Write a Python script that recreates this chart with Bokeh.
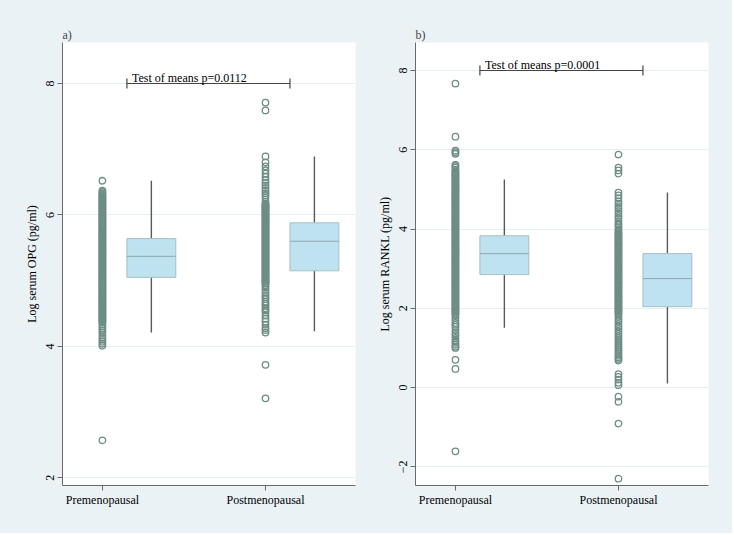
import math
from bokeh.plotting import figure
from bokeh.layouts import row
from bokeh.models import Range1d, FixedTicker
from bokeh.core.properties import value
from bokeh.embed import file_html
from bokeh.resources import INLINE

categories = ["Premenopausal", "Postmenopausal"]
panel_labels = ["a)", "b)"]
y_titles = ["Log serum OPG (pg/ml)", "Log serum RANKL (pg/ml)"]
p_texts = ["Test of means p=0.0112", "Test of means p=0.0001"]
opg_ticks = [2, 4, 6, 8]
rankl_ticks = [-2, 0, 2, 4, 6, 8]

opg_pre = [2.57, 4.01, 4.04, 4.07, 4.10, 4.13, 4.17, 4.21, 4.24, 4.27, 4.30, 4.33, 4.36,
           4.38, 4.39, 4.41, 4.42, 4.44, 4.45, 4.47, 4.48, 4.50, 4.51, 4.53, 4.54, 4.56, 4.57,
           4.59, 4.60, 4.62, 4.63, 4.65, 4.66, 4.68, 4.69, 4.71, 4.72, 4.74, 4.75, 4.77, 4.78,
           4.80, 4.81, 4.83, 4.84, 4.86, 4.87, 4.89, 4.90, 4.92, 4.93, 4.95, 4.96, 4.98, 4.99,
           5.01, 5.02, 5.04, 5.05, 5.07, 5.08, 5.10, 5.11, 5.13, 5.14, 5.16, 5.17, 5.19, 5.20,
           5.22, 5.23, 5.25, 5.26, 5.28, 5.29, 5.31, 5.32, 5.34, 5.35, 5.37, 5.38, 5.40, 5.41,
           5.43, 5.44, 5.46, 5.47, 5.49, 5.50, 5.52, 5.53, 5.55, 5.56, 5.58, 5.59, 5.61, 5.62,
           5.64, 5.65, 5.67, 5.68, 5.70, 5.71, 5.73, 5.74, 5.76, 5.77, 5.79, 5.80, 5.82, 5.83,
           5.85, 5.86, 5.88, 5.89, 5.91, 5.92, 5.94, 5.95, 5.97, 5.98, 6.00, 6.01, 6.03, 6.04,
           6.06, 6.07, 6.09, 6.10, 6.12, 6.13, 6.15, 6.16, 6.18, 6.19, 6.21, 6.22, 6.24, 6.25,
           6.27, 6.28, 6.30, 6.31, 6.33, 6.35, 6.37, 6.52]
opg_post = [3.21, 3.72, 4.21, 4.25, 4.28, 4.33, 4.38, 4.42, 4.47, 4.52, 4.55, 4.58, 4.62, 4.65,
            4.68, 4.72, 4.75, 4.78, 4.82, 4.86, 4.90, 4.93,
            4.96, 4.97, 4.99, 5.00, 5.02, 5.03, 5.05, 5.06, 5.08, 5.09, 5.11, 5.12, 5.14, 5.15,
            5.17, 5.18, 5.20, 5.21, 5.23, 5.24, 5.26, 5.27, 5.29, 5.30, 5.32, 5.33, 5.35, 5.36,
            5.38, 5.39, 5.41, 5.42, 5.44, 5.45, 5.47, 5.48, 5.50, 5.51, 5.53, 5.54, 5.56, 5.57,
            5.59, 5.60, 5.62, 5.63, 5.65, 5.66, 5.68, 5.69, 5.71, 5.72, 5.74, 5.75, 5.77, 5.78,
            5.80, 5.81, 5.83, 5.84, 5.86, 5.87, 5.89, 5.90, 5.92, 5.93, 5.95, 5.96, 5.98, 5.99,
            6.01, 6.02, 6.04, 6.05, 6.07, 6.08, 6.10, 6.11, 6.13, 6.14, 6.16, 6.17,
            6.20, 6.26, 6.30, 6.33, 6.37, 6.41, 6.45, 6.49, 6.53, 6.58, 6.63, 6.68, 6.74,
            6.80, 6.89, 7.59, 7.71]
rankl_pre = [-1.61, 0.47, 0.70, 1.00, 1.03, 1.08, 1.13, 1.18, 1.25, 1.32, 1.37, 1.45, 1.53,
             1.58, 1.63, 1.70, 1.76, 1.82,
             1.86, 1.89, 1.92, 1.95, 1.98, 2.01, 2.04, 2.07, 2.10, 2.13, 2.16, 2.19, 2.22, 2.25,
             2.28, 2.31, 2.34, 2.37, 2.40, 2.43, 2.46, 2.49, 2.52, 2.55, 2.58, 2.61, 2.64, 2.67,
             2.70, 2.73, 2.76, 2.79, 2.82, 2.85, 2.88, 2.91, 2.94, 2.97, 3.00, 3.03, 3.06, 3.09,
             3.12, 3.15, 3.18, 3.21, 3.24, 3.27, 3.30, 3.33, 3.36, 3.39, 3.42, 3.45, 3.48, 3.51,
             3.54, 3.57, 3.60, 3.63, 3.66, 3.69, 3.72, 3.75, 3.78, 3.81, 3.84, 3.87, 3.90, 3.93,
             3.96, 3.99, 4.02, 4.05, 4.08, 4.11, 4.14, 4.17, 4.20, 4.23, 4.26, 4.29, 4.32, 4.35,
             4.38, 4.41, 4.44, 4.47, 4.50, 4.53, 4.56, 4.59, 4.62, 4.65, 4.68, 4.71, 4.74, 4.77,
             4.80, 4.83, 4.86, 4.89, 4.92, 4.95, 4.98, 5.01, 5.04, 5.07, 5.10, 5.13, 5.16, 5.19,
             5.22, 5.25, 5.28, 5.31, 5.34, 5.37, 5.40, 5.43, 5.46,
             5.50, 5.55, 5.59, 5.62, 5.90, 5.94, 5.98, 6.33, 7.67]
rankl_post = [-2.30, -0.91, -0.36, -0.23, 0.06, 0.12, 0.20, 0.27, 0.34, 0.68, 0.72, 0.76, 0.80,
              0.85, 0.90, 0.95, 1.00, 1.05, 1.10, 1.15, 1.20, 1.25, 1.30, 1.36, 1.42, 1.48, 1.54,
              1.60, 1.66, 1.72, 1.78, 1.84,
              1.88, 1.91, 1.94, 1.97, 2.00, 2.03, 2.06, 2.09, 2.12, 2.15, 2.18, 2.21, 2.24, 2.27,
              2.30, 2.33, 2.36, 2.39, 2.42, 2.45, 2.48, 2.51, 2.54, 2.57, 2.60, 2.63, 2.66, 2.69,
              2.72, 2.75, 2.78, 2.81, 2.84, 2.87, 2.90, 2.93, 2.96, 2.99, 3.02, 3.05, 3.08, 3.11,
              3.14, 3.17, 3.20, 3.23, 3.26, 3.29, 3.32, 3.35, 3.38, 3.41, 3.44, 3.47, 3.50, 3.53,
              3.56, 3.59, 3.62, 3.65, 3.68, 3.71, 3.74, 3.77, 3.80, 3.83, 3.86, 3.89, 3.92, 3.95,
              4.00, 4.05, 4.10, 4.14, 4.20, 4.27, 4.33, 4.39, 4.45, 4.52, 4.58, 4.64, 4.70,
              4.78, 4.85, 4.92, 5.40, 5.48, 5.55, 5.88]

# box statistics, [Premenopausal, Postmenopausal]
opg_whisk_lo = [4.21, 4.23]
opg_q1 = [5.05, 5.15]
opg_med = [5.37, 5.60]
opg_q3 = [5.64, 5.88]
opg_whisk_hi = [6.52, 6.89]
rankl_whisk_lo = [1.51, 0.10]
rankl_q1 = [2.85, 2.04]
rankl_med = [3.38, 2.75]
rankl_q3 = [3.83, 3.38]
rankl_whisk_hi = [5.25, 4.92]
bracket_y = [8, 8]

BG = "#EAF2F6"
MARK = "#6D8D85"
BOX_FILL = "#BEE2EF"
BOX_LINE = "#A7BEC6"
MED = "#8DA9B2"
WHISK = "#5A5A5A"
AX = "#6A6A6A"
GRID = "#E6F0F4"
FONT = "Liberation Serif"

BOX_OFF = 0.30
BOX_W = 0.30


def make_panel(label, ytitle, ptext, pre, post, lo, q1, med, q3, hi, yticks, yr, width,
               bl, br, by):
    p = figure(width=width, height=533, output_backend="svg", toolbar_location=None,
               x_range=Range1d(0.755, 2.552), y_range=Range1d(*yr),
               min_border_left=bl, min_border_right=br, min_border_top=42,
               min_border_bottom=48, background_fill_color="white",
               border_fill_color=BG, outline_line_color=None)
    p.title.text = label
    p.title.text_font = FONT
    p.title.text_font_size = "12px"
    p.title.text_font_style = "normal"
    p.title.align = "left"
    p.title.standoff = 2
    p.title.offset = 0

    idx = [i + 1 for i in range(len(categories))]
    bx = [i + BOX_OFF for i in idx]

    p.xgrid.visible = False
    p.ygrid.grid_line_color = GRID
    p.ygrid.grid_line_width = 1

    xs = [idx[0]] * len(pre) + [idx[1]] * len(post)
    ys = list(pre) + list(post)
    p.scatter(xs, ys, marker="circle", size=6.5, fill_color=None, line_color=MARK,
              line_width=1.3)

    p.segment(x0=bx, y0=q3, x1=bx, y1=hi, line_color=WHISK, line_width=1.4)
    p.segment(x0=bx, y0=lo, x1=bx, y1=q1, line_color=WHISK, line_width=1.4)
    p.vbar(x=bx, width=BOX_W, bottom=q1, top=q3, fill_color=BOX_FILL,
           line_color=BOX_LINE, line_width=1)
    p.segment(x0=[b - BOX_W / 2 for b in bx], y0=med, x1=[b + BOX_W / 2 for b in bx],
              y1=med, line_color=MED, line_width=1)

    ends = [b - BOX_W / 2 for b in bx]
    p.segment(x0=[ends[0]], y0=[by[0]], x1=[ends[1]], y1=[by[1]], line_color="#444",
              line_width=1.2)
    p.scatter(x=ends, y=by, marker="dash", size=10, angle=math.pi / 2,
              line_color="#444", line_width=1.2)
    p.text(x=[ends[0]], y=[by[0]], text=[ptext], text_font=value(FONT),
           text_font_size="12px", text_baseline="bottom", text_align="left",
           x_offset=5, y_offset=1, text_color="black")

    p.xaxis.ticker = FixedTicker(ticks=idx)
    p.xaxis.major_label_overrides = {i: c for i, c in zip(idx, categories)}
    p.yaxis.ticker = FixedTicker(ticks=yticks)
    p.yaxis.major_label_overrides = {t: (("\u2212" + str(-t)) if t < 0 else str(t))
                                     for t in yticks}
    p.yaxis.major_label_orientation = "vertical"
    p.yaxis.axis_label = ytitle
    p.yaxis.axis_label_standoff = 5
    for ax in (p.xaxis[0], p.yaxis[0]):
        ax.axis_line_color = AX
        ax.axis_line_width = 1
        ax.major_tick_line_color = AX
        ax.major_tick_out = 5
        ax.major_tick_in = 0
        ax.minor_tick_line_color = None
        ax.major_label_text_font = FONT
        ax.major_label_text_font_size = "12px"
        ax.major_label_text_color = "black"
        ax.major_label_standoff = 2
        ax.axis_label_text_font = FONT
        ax.axis_label_text_font_size = "12px"
        ax.axis_label_text_font_style = "normal"
        ax.axis_label_text_color = "black"
    p.yaxis.major_label_standoff = 3
    return p


p1 = make_panel(panel_labels[0], y_titles[0], p_texts[0], opg_pre, opg_post, opg_whisk_lo,
                opg_q1, opg_med, opg_q3, opg_whisk_hi, opg_ticks, (1.883, 8.624), 367, 62, 12,
                bracket_y)
p2 = make_panel(panel_labels[1], y_titles[1], p_texts[1], rankl_pre, rankl_post,
                rankl_whisk_lo, rankl_q1, rankl_med, rankl_q3, rankl_whisk_hi, rankl_ticks,
                (-2.472, 8.707), 365, 48, 24, bracket_y)

layout = row(p1, p2, styles={"background-color": BG})
open("out.html", "w").write(file_html(layout, INLINE))
